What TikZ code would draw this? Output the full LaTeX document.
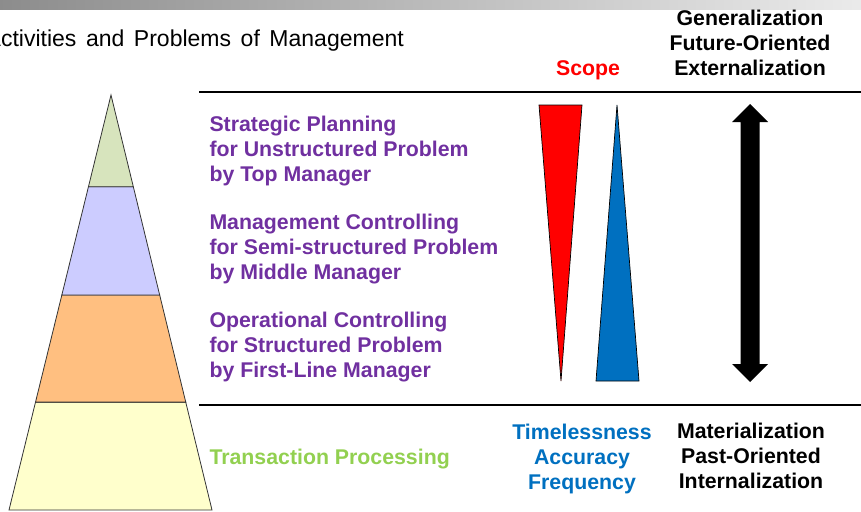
\documentclass[tikz,border=0pt]{standalone}
\usepackage{fontspec}
\setmainfont{Liberation Sans}
\usetikzlibrary{calc}
\definecolor{purp}{HTML}{7030A0}
\definecolor{tgreen}{HTML}{92D050}
\definecolor{tblue}{HTML}{0070C0}
\definecolor{bandA}{HTML}{D7E4BD}
\definecolor{bandB}{HTML}{CCCCFF}
\definecolor{bandC}{HTML}{FFBF80}
\definecolor{bandD}{HTML}{FFFFCC}
\tikzset{
  lbl/.style={inner sep=0pt, font=\fontsize{21.3}{25}\selectfont\bfseries},
  purplbl/.style={lbl, text=purp, anchor=base west},
  ctr/.style={lbl, anchor=base},
  band/.style={draw=black!80, line width=0.8pt},
  rule/.style={line width=2pt},
  wedge/.style={draw=black, line width=0.7pt}
}
\begin{document}
\begin{tikzpicture}[x=1pt,y=-1pt]
\useasboundingbox (0,0) rectangle (861,511);
\clip (0,0) rectangle (861,511);
% top bar
\shade[left color=black!45, right color=black!8] (0,0) rectangle (861,10);
% title
\node[inner sep=0pt, anchor=base west, font=\fontsize{23}{27}\selectfont] (title) at (-14.5,47) {\spaceskip=9.6pt\relax Activities and Problems of Management};
% pyramid
\coordinate (apex) at (111,95);
\coordinate (bl) at (9,510);
\coordinate (br) at (212,510);
\coordinate (l1) at ($(apex)!0.221!(bl)$);
\coordinate (r1) at ($(apex)!0.221!(br)$);
\coordinate (l2) at ($(apex)!0.482!(bl)$);
\coordinate (r2) at ($(apex)!0.482!(br)$);
\coordinate (l3) at ($(apex)!0.740!(bl)$);
\coordinate (r3) at ($(apex)!0.740!(br)$);
\filldraw[band, fill=bandD] (l3) -- (r3) -- (br) -- (bl) -- cycle;
\filldraw[band, fill=bandC] (l2) -- (r2) -- (r3) -- (l3) -- cycle;
\filldraw[band, fill=bandB] (l1) -- (r1) -- (r2) -- (l2) -- cycle;
\filldraw[band, fill=bandA] (apex) -- (r1) -- (l1) -- cycle;
% rules
\coordinate (t1) at (199,92);
\coordinate (t2) at (861,92);
\coordinate (b1) at (199,405);
\coordinate (b2) at (861,405);
\draw[rule] (t1) -- (t2);
\draw[rule] (b1) -- (b2);
% purple labels
\node[purplbl] (s1) at (209.3,131) {Strategic Planning};
\node[purplbl] (s2) at (209.3,156.5) {for Unstructured Problem};
\node[purplbl] (s3) at (209.3,181.5) {by Top Manager};
\node[purplbl] (m1) at (209.3,229) {Management Controlling};
\node[purplbl] (m2) at (209.3,254) {for Semi-structured Problem};
\node[purplbl] (m3) at (209.3,279) {by Middle Manager};
\node[purplbl] (o1) at (209.3,327) {Operational Controlling};
\node[purplbl] (o2) at (209.3,352) {for Structured Problem};
\node[purplbl] (o3) at (209.3,377.5) {by First-Line Manager};
\node[purplbl, text=tgreen] (tp) at (209.3,464) {Transaction Processing};
% wedges
\filldraw[wedge, fill=red] (539,105) -- (582,105) -- (561,381) -- cycle;
\filldraw[wedge, fill=tblue] (617,105) -- (639,381) -- (596,381) -- cycle;
% double arrow
\fill (750,104) -- (768,122) -- (759.5,122) -- (759.5,364) -- (768,364) -- (750,382)
  -- (732,364) -- (740.5,364) -- (740.5,122) -- (732,122) -- cycle;
% header labels
\node[ctr, text=red] (scope) at (588,75) {Scope};
\node[ctr] (g1) at (750,26) {Generalization};
\node[ctr] (g2) at (750,51) {Future-Oriented};
\node[ctr] (g3) at (750,75.5) {Externalization};
% footer labels
\node[ctr, text=tblue] (f1) at (582,439) {Timelessness};
\node[ctr, text=tblue] (f2) at (582,464) {Accuracy};
\node[ctr, text=tblue] (f3) at (582,489.5) {Frequency};
\node[ctr] (p1) at (751,438) {Materialization};
\node[ctr] (p2) at (751,463) {Past-Oriented};
\node[ctr] (p3) at (751,488) {Internalization};
\end{tikzpicture}
\end{document}
